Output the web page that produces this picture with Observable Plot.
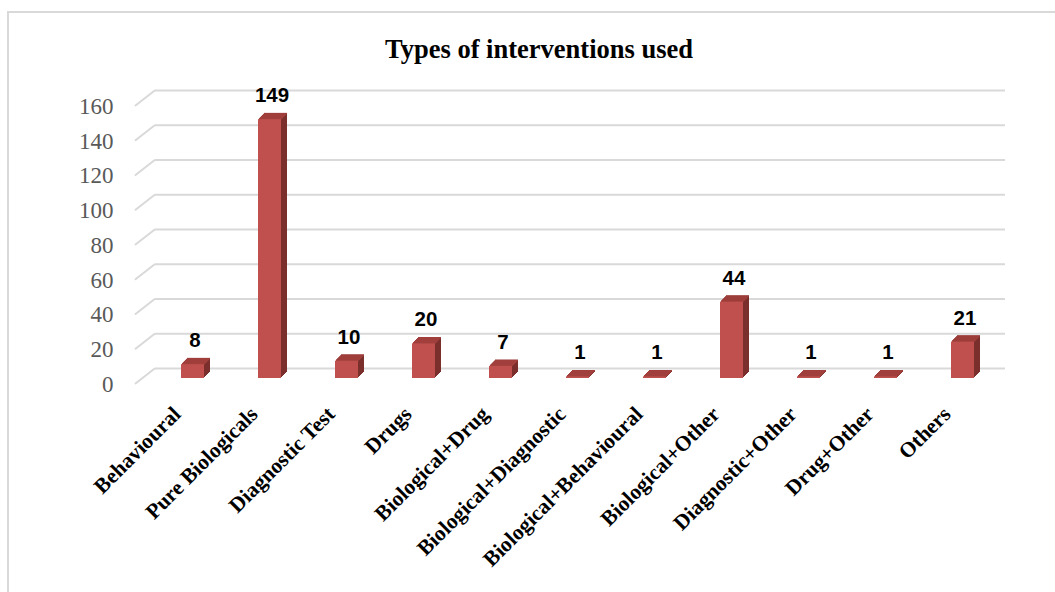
<!DOCTYPE html>
<html>
<head>
<meta charset="utf-8">
<script src="https://cdn.jsdelivr.net/npm/d3@7"></script>
<script src="https://cdn.jsdelivr.net/npm/@observablehq/plot@0.6"></script>
<style>
  html, body { margin: 0; padding: 0; background: #fff; overflow: hidden; }
  #page { position: relative; width: 1055px; height: 592px; overflow: hidden; }
  #frame { position: absolute; left: 7px; top: 11px; width: 1200px; height: 700px; border: 2px solid #d9d9d9; box-sizing: border-box; }
  #title { position: absolute; left: 0; width: 1078px; top: 36px; text-align: center; font: bold 26.5px/26px "Liberation Serif", "Times New Roman", serif; color: #000; }
  #chart { position: absolute; left: 0; top: 0; }
</style>
</head>
<body>
<div id="page">
  <div id="frame"></div>
  <div id="title">Types of interventions used</div>
  <div id="chart"></div>
</div>
<script>
const categories = ["Behavioural", "Pure Biologicals", "Diagnostic Test", "Drugs", "Biological+Drug", "Biological+Diagnostic", "Biological+Behavioural", "Biological+Other", "Diagnostic+Other", "Drug+Other", "Others"];
const values = [8, 149, 10, 20, 7, 1, 1, 44, 1, 1, 21];
const yTicks = [0, 20, 40, 60, 80, 100, 120, 140, 160];

const data = categories.map((c, i) => ({category: c, value: values[i]}));

const FRONT = "#c0504d";
const SIDE = "#7b2f2d";
const TOP = "#a03f3c";
const GRID = "#d9d9d9";
const depth = [6, 5, 4, 3, 2, 1];
const lineShape = {draw(context, l) { context.moveTo(0, 0); context.lineTo(0, -l); }};

const chart = Plot.plot({
  width: 1055,
  height: 592,
  marginLeft: 153,
  marginRight: 52,
  marginTop: 100,
  marginBottom: 214,
  style: {background: "transparent", overflow: "visible"},
  x: {domain: categories, paddingInner: 0.7, paddingOuter: 0.35, axis: null},
  y: {domain: [0, 160], axis: null},
  marks: [
    Plot.ruleY(yTicks, {y: d => d, dx: 2, dy: -10, stroke: GRID, strokeWidth: 2}),
    Plot.vector(yTicks, {y: d => d, frameAnchor: "left", dx: -18, dy: 5, length: 24, rotate: 52, anchor: "start", stroke: GRID, strokeWidth: 2, shape: lineShape}),
    Plot.text(yTicks, {y: d => d, text: d => String(d), frameAnchor: "left", dx: -40, dy: 6, textAnchor: "end", fontSize: 23, fontFamily: "Liberation Serif", fill: "#595959"}),
    ...depth.map(k => Plot.barY(data, {x: "category", y: "value", fill: SIDE, dx: k, dy: -k})),
    ...depth.map(k => Plot.tickY(data, {x: "category", y: "value", stroke: TOP, strokeWidth: 1.5, dx: k, dy: -k})),
    Plot.barY(data, {x: "category", y: "value", fill: FRONT}),
    Plot.text(data, {x: "category", y: "value", text: d => String(d.value), dx: 2, dy: -24, fontSize: 20.5, fontWeight: "bold", fontFamily: "Liberation Sans", fill: "#000"}),
    Plot.text(categories, {x: d => d, text: d => d, frameAnchor: "bottom", dx: -11, dy: 37, rotate: -45, textAnchor: "end", fontSize: 21.5, fontWeight: "bold", fontFamily: "Liberation Serif", fill: "#000"})
  ]
});
document.getElementById("chart").appendChild(chart);
</script>
</body>
</html>
